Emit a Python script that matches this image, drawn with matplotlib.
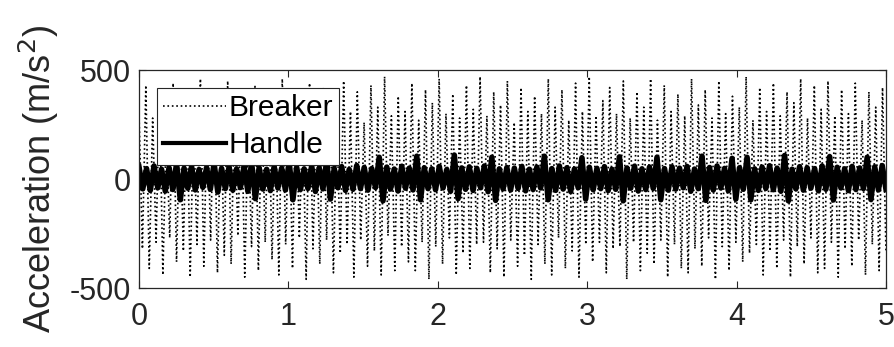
import numpy as np
import matplotlib.pyplot as plt

plt.rcParams['font.family'] = ['Liberation Sans', 'DejaVu Sans']
plt.rcParams['axes.unicode_minus'] = False

# Breaker acceleration: alternating upper / lower peaks (m/s^2)
breaker_pos = [300, 430, 280, 390, 250, 440, 310, 370, 290, 460,
               330, 400, 270, 450, 300, 380, 260, 430, 340, 410,
               290, 460, 320, 390, 270, 440, 300, 420, 350, 280,
               450, 310, 400, 260, 430, 330, 470, 290, 380, 310,
               440, 270, 410, 350, 460, 300, 390, 280, 430, 320,
               470, 290, 400, 340, 450, 260, 420, 310, 380, 300,
               460, 330, 410, 270, 440, 310, 470, 290, 360, 420,
               300, 450, 280, 400, 330, 460, 270, 430, 310, 390,
               290, 460, 340, 410, 280, 450, 300, 380, 330, 470,
               270, 420, 310, 440, 290, 400, 350, 460, 280, 430,
               320, 450, 290, 410, 300, 440, 270, 400, 330, 420]
breaker_neg = [-320, -410, -290, -440, -270, -380, -330, -450, -300, -400,
               -280, -430, -350, -390, -260, -450, -310, -420, -290, -370,
               -440, -300, -410, -270, -460, -320, -390, -280, -430, -340,
               -300, -450, -280, -400, -330, -440, -260, -420, -310, -380,
               -420, -290, -460, -310, -390, -270, -440, -340, -410, -300,
               -290, -430, -320, -450, -280, -400, -350, -460, -300, -390,
               -440, -270, -410, -330, -450, -300, -380, -290, -430, -320,
               -310, -460, -290, -420, -340, -390, -280, -450, -300, -410,
               -430, -320, -400, -270, -460, -310, -420, -290, -380, -340,
               -300, -440, -330, -410, -280, -450, -310, -390, -270, -430,
               -410, -290, -450, -320, -400, -280, -440, -300, -420, -330]

# Handle acceleration: alternating upper / lower values (m/s^2)
handle_pos = [55, 48, 60, 45, 52, 70, 50, 58, 44, 53,
              72, 49, 56, 47, 61, 75, 52, 45, 58, 50,
              80, 54, 47, 60, 51, 85, 49, 57, 44, 62,
              53, 48, 100, 55, 46, 59, 50, 105, 52, 47,
              58, 44, 110, 51, 56, 49, 60, 100, 47, 53,
              50, 58, 45, 55, 105, 48, 60, 52, 46, 98,
              54, 49, 57, 45, 102, 51, 59, 47, 55, 100,
              48, 56, 50, 58, 46, 105, 53, 60, 49, 95,
              52, 100, 47, 55, 61, 50, 108, 45, 57, 52,
              48, 60, 103, 54, 47, 58, 51, 100, 56, 62]
handle_neg = [-45, -52, -40, -55, -48, -95, -42, -50, -38, -47,
              -60, -44, -51, -39, -56, -90, -46, -53, -41, -50,
              -95, -48, -43, -57, -45, -92, -40, -52, -47, -44,
              -51, -39, -100, -46, -55, -42, -50, -95, -44, -49,
              -41, -56, -90, -47, -52, -40, -58, -98, -45, -50,
              -43, -54, -48, -41, -95, -52, -46, -57, -40, -92,
              -49, -44, -53, -47, -100, -42, -55, -48, -43, -95,
              -51, -46, -40, -56, -44, -98, -50, -41, -54, -92,
              -47, -95, -52, -43, -49, -56, -100, -45, -51, -42,
              -54, -47, -96, -41, -53, -48, -44, -94, -50, -46]

breaker = np.column_stack([breaker_pos, breaker_neg]).ravel()
handle = np.column_stack([handle_pos, handle_neg]).ravel()
t_breaker = np.linspace(0, 5, len(breaker))
t_handle = np.linspace(0, 5, len(handle))

fig = plt.figure(figsize=(8.94, 3.47), dpi=100)
ax = fig.add_axes([0.1555, 0.170, 0.8355, 0.628])

ax.plot(t_breaker, breaker, linestyle=':', color='black', linewidth=1.2, label='Breaker')
ax.plot(t_handle, handle, linestyle='-', color='black', linewidth=4, label='Handle')

ax.set_xlim(0, 5)
ax.set_ylim(-500, 500)
ax.set_xticks([0, 1, 2, 3, 4, 5])
ax.set_yticks([-500, 0, 500])
ax.tick_params(direction='in', length=5, width=0.8, labelsize=22, colors='#262626',
               top=True, right=True)
ax.tick_params(axis='x', pad=10)
ax.tick_params(axis='y', pad=6)
for s in ax.spines.values():
    s.set_color('#262626')
    s.set_linewidth(0.9)

ax.set_ylabel('Acceleration (m/s$^2$)', fontsize=26, color='#262626', labelpad=6)

leg = ax.legend(loc='upper left', bbox_to_anchor=(0.024, 0.917), borderaxespad=0,
                fontsize=21.5, handlelength=2.1, handletextpad=0.1, labelspacing=0.3,
                borderpad=0.2, fancybox=False, framealpha=1, edgecolor='#262626')
leg.get_frame().set_linewidth(0.8)
for h in leg.get_lines():
    if h.get_linestyle() == '-':
        h.set_linewidth(3)

plt.savefig('out.png', dpi=100)
